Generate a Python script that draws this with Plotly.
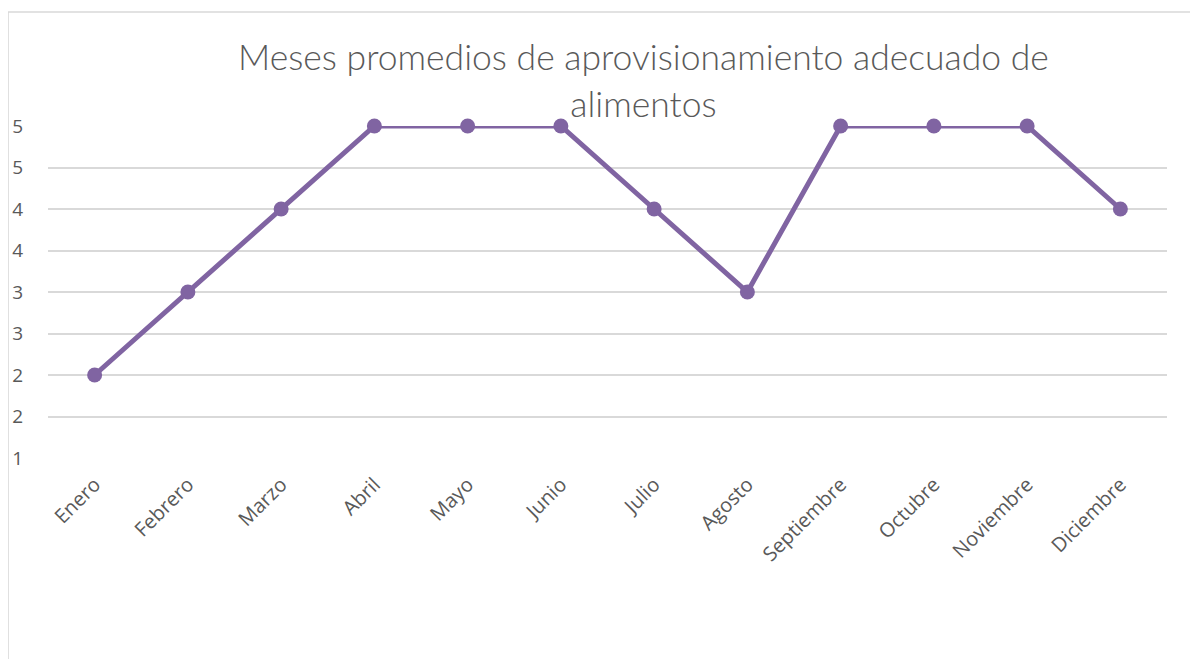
import plotly.graph_objects as go

meses = ["Enero", "Febrero", "Marzo", "Abril", "Mayo", "Junio", "Julio",
         "Agosto", "Septiembre", "Octubre", "Noviembre", "Diciembre"]
promedio = [2, 3, 4, 5, 5, 5, 4, 3, 5, 5, 5, 4]

fig = go.Figure()
fig.add_trace(go.Scatter(
    x=meses, y=promedio, mode="lines+markers",
    line=dict(color="#8064A2", width=5),
    marker=dict(size=15, color="#8064A2"),
    cliponaxis=False, showlegend=False,
))

fig["layout"]["margin"] = {"l": 40, "r": 31, "t": 118, "b": 201}
fig.update_layout(
    width=1190, height=651,
    plot_bgcolor="white", paper_bgcolor="white",
    font=dict(family="Open Sans", color="#595959", size=19),
    title=dict(
        text="Meses promedios de aprovisionamiento adecuado de<br>alimentos",
        x=0.534, xanchor="center", y=0.904, yanchor="top",
        font=dict(family="Lato", size=35.5, color="#595959", weight=300),
    ),
    shapes=[dict(type="rect", xref="paper", yref="paper",
                 x0=-0.0357, x1=1.2, y0=-1.0, y1=1.343,
                 line=dict(color="#d9d9d9", width=1.5), layer="below")],
)
fig.update_xaxes(showgrid=False, showline=False, zeroline=False,
                 automargin=False,
                 tickangle=-45, range=[-0.5, 11.5], ticklabelstandoff=10,
                 tickfont=dict(size=20, color="#595959"))
fig.update_yaxes(showgrid=True, gridwidth=1.5, gridcolor="#d9d9d9",
                 zeroline=False, showline=False, automargin=False,
                 range=[1, 5], dtick=0.5, tick0=1, tickformat=".0f",
                 ticklabelstandoff=24,
                 tickfont=dict(size=19, color="#595959"))
fig.write_html("out.html")
